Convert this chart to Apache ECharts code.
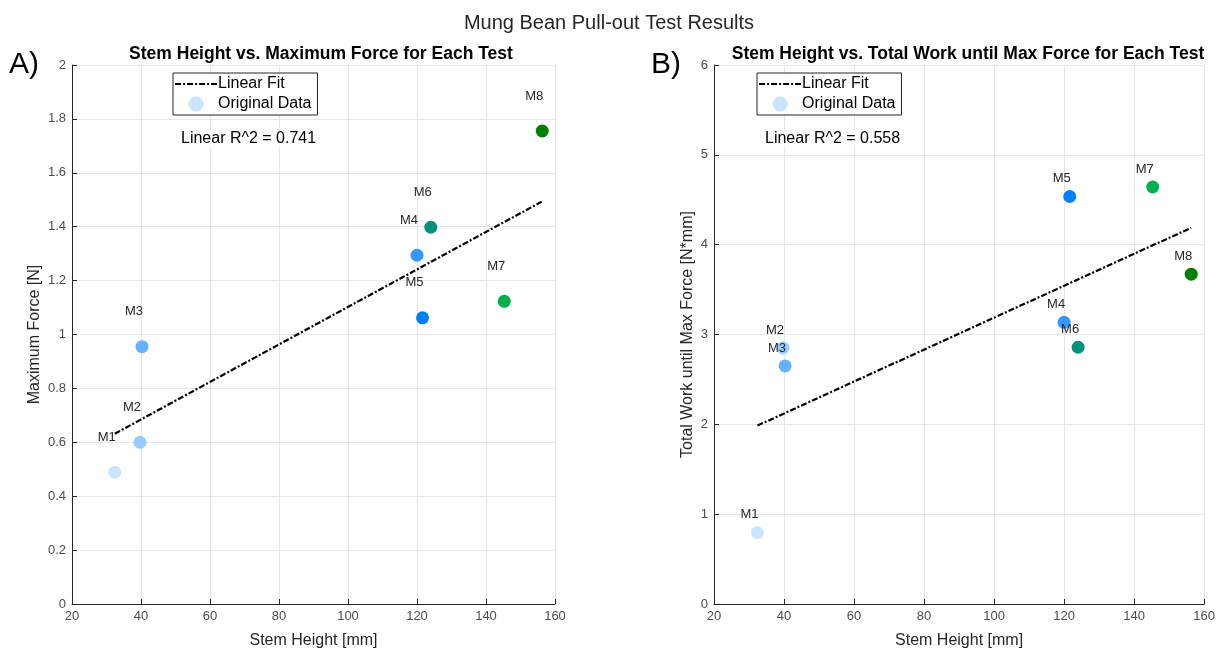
<!DOCTYPE html>
<html>
<head>
<meta charset="utf-8">
<script src="https://cdn.jsdelivr.net/npm/echarts@6/dist/echarts.min.js"></script>
<style>html,body{margin:0;padding:0;background:#fff}#c{width:1218px;height:654px}</style>
</head>
<body>
<div id="c"></div>
<script>
// ---- data ----
var testNames   = ['M1','M2','M3','M4','M5','M6','M7','M8'];
var stemHeight  = [32.4, 39.7, 40.3, 120.0, 121.6, 124.0, 145.3, 156.3];   // mm
var maxForce    = [0.489, 0.600, 0.955, 1.294, 1.062, 1.398, 1.123, 1.755]; // N
var totalWork   = [0.793, 2.850, 2.650, 3.135, 4.536, 2.858, 4.642, 3.672]; // N*mm
var pointColors = ['#cce5ff','#99ccff','#66b2ff','#3399ff','#0080ff','#00917c','#00b050','#008000'];
var r2Texts     = ['Linear R^2 = 0.741', 'Linear R^2 = 0.558'];
var xTicks = {min: 20, max: 160, interval: 20};

function linFit(xs, ys) {
  var n = xs.length, mx = 0, my = 0;
  for (var i = 0; i < n; i++) { mx += xs[i]; my += ys[i]; }
  mx /= n; my /= n;
  var sxy = 0, sxx = 0;
  for (var j = 0; j < n; j++) { sxy += (xs[j]-mx)*(ys[j]-my); sxx += (xs[j]-mx)*(xs[j]-mx); }
  var b = sxy / sxx, a = my - b*mx;
  var x0 = Math.min.apply(null, xs), x1 = Math.max.apply(null, xs);
  return [[x0, a + b*x0], [x1, a + b*x1]];
}
function pts(ys) {
  return stemHeight.map(function (x, i) {
    return { name: testNames[i], value: [x, ys[i]], itemStyle: { color: pointColors[i] } };
  });
}

var FONT = '"Liberation Sans", Arial, Helvetica, sans-serif';
var axisCol = '#262626';
var DASH = [6, 2, 2, 2];

function xAxisCfg(gi) {
  return {
    gridIndex: gi, type: 'value', min: xTicks.min, max: xTicks.max, interval: xTicks.interval,
    name: 'Stem Height [mm]', nameLocation: 'middle', nameGap: 29,
    nameTextStyle: { fontFamily: FONT, fontSize: 16, color: axisCol },
    axisLine: { onZero: false, lineStyle: { color: axisCol, width: 1 } },
    axisTick: { inside: true, length: 5, lineStyle: { color: axisCol } },
    axisLabel: { fontFamily: FONT, fontSize: 13, color: '#4d4d4d', margin: 6 },
    splitLine: { show: true, lineStyle: { color: '#e6e6e6', width: 1 } }
  };
}
function yAxisCfg(gi, max, interval, name, gap) {
  return {
    gridIndex: gi, type: 'value', min: 0, max: max, interval: interval,
    name: name, nameLocation: 'middle', nameGap: gap,
    nameTextStyle: { fontFamily: FONT, fontSize: 16, color: axisCol },
    axisLine: { show: true, onZero: false, lineStyle: { color: axisCol, width: 1 } },
    axisTick: { show: true, inside: true, length: 5, lineStyle: { color: axisCol } },
    axisLabel: { fontFamily: FONT, fontSize: 13, color: '#4d4d4d', margin: 6 },
    splitLine: { show: true, lineStyle: { color: '#e6e6e6', width: 1 } }
  };
}
function fitSeries(gi, ys) {
  return {
    name: 'Linear Fit', type: 'line', xAxisIndex: gi, yAxisIndex: gi,
    data: linFit(stemHeight, ys), symbol: 'none', silent: true, z: 3,
    lineStyle: { color: '#000', width: 2.2, type: DASH },
    itemStyle: { color: '#000' }
  };
}
function dataSeries(gi, ys, off) {
  return {
    name: 'Original Data', type: 'scatter', xAxisIndex: gi, yAxisIndex: gi,
    data: pts(ys), symbol: 'circle', symbolSize: 13, z: 4,
    itemStyle: { color: pointColors[0], opacity: 1 },
    label: { show: true, formatter: '{b}', position: 'inside', offset: off,
             fontFamily: FONT, fontSize: 13, color: axisCol }
  };
}
function legendCfg(left) {
  return {
    left: left, top: 73, orient: 'vertical',
    data: [
      { name: 'Linear Fit', itemStyle: { color: 'rgba(0,0,0,0)', borderWidth: 0, opacity: 0 },
        lineStyle: { color: '#000', width: 2.2, type: DASH } },
      { name: 'Original Data', icon: 'circle' }
    ],
    backgroundColor: '#fff', borderColor: axisCol, borderWidth: 1, borderRadius: 0,
    padding: [3, 6, 3, 1], itemGap: 4, itemWidth: 42, itemHeight: 15,
    selectedMode: false,
    textStyle: { fontFamily: FONT, fontSize: 16, color: '#000', padding: [0, 0, 0, -4] }
  };
}

var option = {
  backgroundColor: '#fff',
  animation: false,
  title: [
    { text: 'Mung Bean Pull-out Test Results', left: 'center', top: 8,
      textStyle: { fontFamily: FONT, fontSize: 20, fontWeight: 'normal', color: axisCol } },
    { text: 'Stem Height vs. Maximum Force for Each Test', left: 316, textAlign: 'center', top: 40,
      textStyle: { fontFamily: FONT, fontSize: 17.5, fontWeight: 'bold', color: '#000' } },
    { text: 'Stem Height vs. Total Work until Max Force for Each Test', left: 963, textAlign: 'center', top: 40,
      textStyle: { fontFamily: FONT, fontSize: 17.5, fontWeight: 'bold', color: '#000' } }
  ],
  grid: [
    { left: 72, right: 663, top: 65, bottom: 43 },
    { left: 714, right: 13, top: 65, bottom: 43 }
  ],
  xAxis: [xAxisCfg(0), xAxisCfg(1)],
  yAxis: [
    yAxisCfg(0, 2, 0.2, 'Maximum Force [N]', 29),
    yAxisCfg(1, 6, 1, 'Total Work until Max Force [N*mm]', 18)
  ],
  legend: [legendCfg(173), legendCfg(757)],
  series: [
    fitSeries(0, maxForce), dataSeries(0, maxForce, [-8, -35]),
    fitSeries(1, totalWork), dataSeries(1, totalWork, [-8, -18])
  ],
  graphic: [
    { type: 'text', left: 9, top: 50, style: { text: 'A)', font: '30px ' + FONT, fill: '#000' } },
    { type: 'text', left: 651, top: 50, style: { text: 'B)', font: '30px ' + FONT, fill: '#000' } },
    { type: 'text', left: 181, top: 131, z: 10, style: { text: r2Texts[0], font: '16px ' + FONT, fill: '#000', backgroundColor: '#fff' } },
    { type: 'text', left: 765, top: 131, z: 10, style: { text: r2Texts[1], font: '16px ' + FONT, fill: '#000', backgroundColor: '#fff' } }
  ]
};
var chart = echarts.init(document.getElementById('c'), null, { renderer: 'canvas' });
chart.setOption(option);
</script>
</body>
</html>
